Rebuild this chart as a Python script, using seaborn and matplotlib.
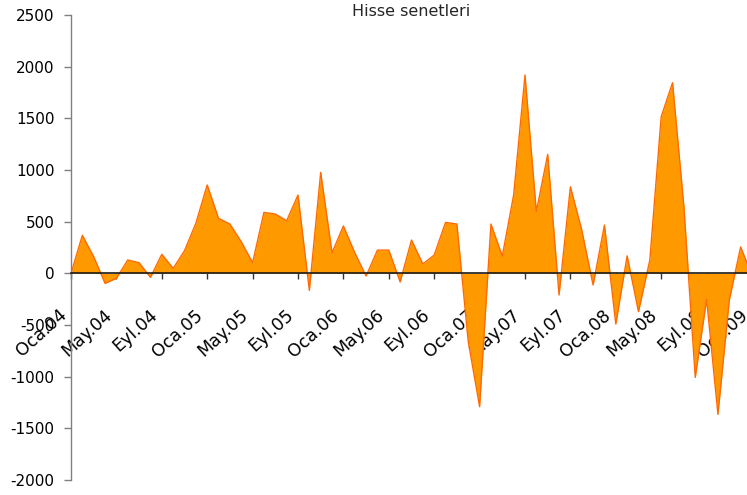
import matplotlib
matplotlib.use("Agg")
import matplotlib.pyplot as plt
import matplotlib.transforms as mtransforms
import seaborn as sns
import numpy as np
import pandas as pd

# Monthly net flows into equities (Jan 2004 – Jan 2009)
month_names = ["Oca", "Şub", "Mar", "Nis", "May", "Haz",
               "Tem", "Ağu", "Eyl", "Eki", "Kas", "Ara"]
years = ["04", "05", "06", "07", "08", "09"]
periods = [f"{m}.{y}" for y in years for m in month_names][:61]

values = [0, 368, 161, -97, -48, 129, 103, -39, 184, 48,
          219, 484, 855, 532, 477, 306, 103, 590, 574, 509,
          758, -165, 977, 200, 458, 200, -26, 225, 225, -84,
          322, 90, 177, 493, 477, -660, -1290, 477, 167, 758,
          1919, 597, 1151, -210, 838, 419, -113, 467, -491, 169,
          -371, 129, 1516, 1845, 645, -1007, -252, -1365, -258, 255,
          -20]

title = "Hisse senetleri"
y_ticks = [-2000, -1500, -1000, -500, 0, 500, 1000, 1500, 2000, 2500]

df = pd.DataFrame({"idx": np.arange(len(values)), "period": periods, "value": values})

sns.set_style("white")
plt.rcParams["font.family"] = ["DejaVu Sans"]

fig = plt.figure(figsize=(7.47, 4.95), dpi=100)
ax = fig.add_axes([71 / 747, 15 / 495, (752 - 71) / 747, 465 / 495])

ax.fill_between(df["idx"], df["value"], 0, color="#FF9900", linewidth=0, zorder=1)
sns.lineplot(data=df, x="idx", y="value", ax=ax, color="#FF6A00", linewidth=1.0, zorder=2)

ax.set_xlim(0, len(values) - 1)
ax.set_ylim(-2000, 2500)
ax.set_yticks(y_ticks)
ax.set_yticklabels([str(t) for t in y_ticks])

tick_idx = list(range(0, len(values), 4))
ax.set_xticks(tick_idx)
ax.set_xticklabels([periods[i] for i in tick_idx])

ax.set_xlabel("")
ax.set_ylabel("")

for side in ["top", "right"]:
    ax.spines[side].set_visible(False)
ax.spines["left"].set_color("#808080")
ax.spines["left"].set_linewidth(1.0)
ax.spines["bottom"].set_position(("data", 0))
ax.spines["bottom"].set_color("#1a1a1a")
ax.spines["bottom"].set_linewidth(1.2)
ax.spines["bottom"].set_zorder(5)

ax.tick_params(axis="y", direction="out", length=5, width=1, color="#808080",
               pad=7, labelcolor="black", labelsize=11, left=True)
ax.tick_params(axis="x", direction="out", length=4.3, width=1, color="#333333",
               pad=24, labelcolor="black", labelsize=12.5, bottom=True)

# rotated month labels, nudged slightly left of their ticks
shift = mtransforms.ScaledTranslation(-7 / 100, 0, fig.dpi_scale_trans)
for lbl in ax.get_xticklabels():
    lbl.set_fontsize(12.5)
    lbl.set_rotation(42)
    lbl.set_rotation_mode("anchor")
    lbl.set_ha("right")
    lbl.set_va("center")
    lbl.set_transform(lbl.get_transform() + shift)

fig.text(411.5 / 747, 1 - 11.5 / 495, title, ha="center", va="center", fontsize=11.5)

fig.savefig("out.png", dpi=100)
